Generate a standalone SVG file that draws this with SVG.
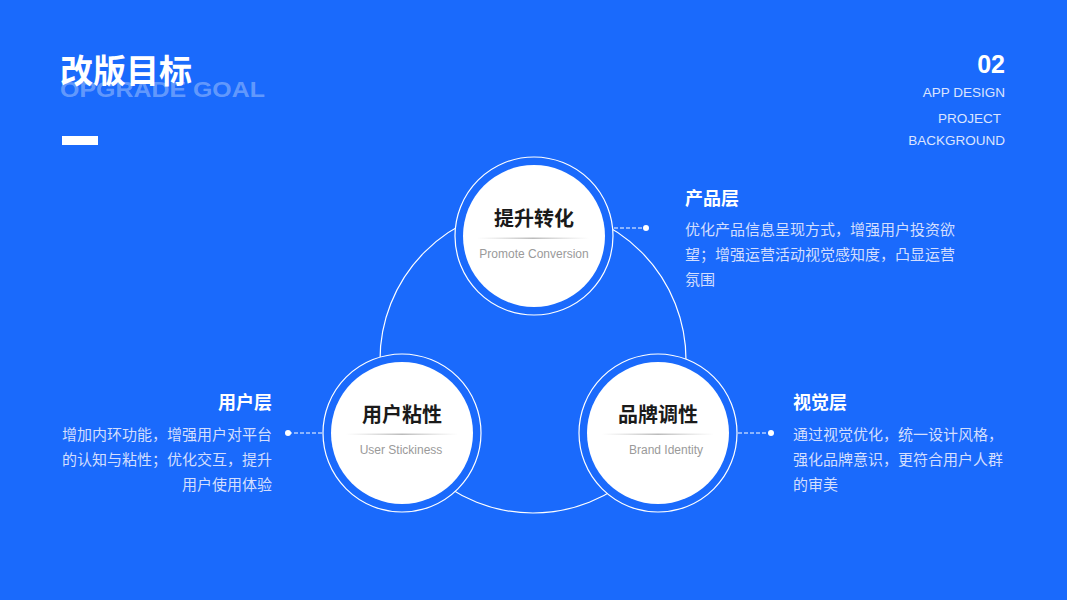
<svg xmlns="http://www.w3.org/2000/svg" width="1067" height="600" viewBox="0 0 1067 600">
<defs>
<style>
.cn{font-family:"Noto Sans CJK SC","Noto Sans",sans-serif}
.en{font-family:"Liberation Sans",Arial,sans-serif}
.ring{fill:#1a6afc;stroke:#ffffff;stroke-width:1.2}
.big{fill:none;stroke:#ffffff;stroke-width:1.2}
.disc{fill:#ffffff}
.ttl{font-size:20px;font-weight:700;fill:#1a1a1a;text-anchor:middle}
.sub{font-size:12px;fill:#9a9a9a;text-anchor:middle}
.hd{font-size:18px;font-weight:700;fill:#ffffff}
.body{font-size:15px;fill:#d3defe}
.dash{stroke:#ffffff;stroke-width:1;stroke-dasharray:4 2;fill:none}
.dot{fill:#ffffff}
.side{font-size:13.5px;fill:#dbe4ff;text-anchor:end}
</style>
<linearGradient id="sep" x1="0" y1="0" x2="1" y2="0">
<stop offset="0" stop-color="#cccccc" stop-opacity="0"/>
<stop offset="0.5" stop-color="#bbbbbb" stop-opacity="1"/>
<stop offset="1" stop-color="#cccccc" stop-opacity="0"/>
</linearGradient>
</defs>
<rect width="1067" height="600" fill="#1a6afc"/>
<g id="header">
<text x="60" y="97" class="en" font-size="22" font-weight="700" fill="#ffffff" fill-opacity="0.33" textLength="205" lengthAdjust="spacingAndGlyphs">OPGRADE GOAL</text>
<text x="60" y="83" class="cn" font-size="33" font-weight="700" fill="#ffffff">改版目标</text>
<rect x="62" y="136" width="36" height="9" fill="#ffffff"/>
<text x="1005" y="73" class="en" font-size="25" font-weight="700" fill="#ffffff" text-anchor="end">02</text>
<text x="1005" y="97" class="en side">APP DESIGN</text>
<text x="1001" y="123" class="en side">PROJECT</text>
<text x="1005" y="145" class="en side">BACKGROUND</text>
</g>
<g id="connectors">
<circle cx="533" cy="360" r="153" class="big"/>
<line x1="614" y1="228" x2="646" y2="228" class="dash"/>
<circle cx="646" cy="228" r="3" class="dot"/>
<line x1="288" y1="433" x2="322" y2="433" class="dash"/>
<circle cx="288" cy="433" r="3" class="dot"/>
<line x1="738" y1="433" x2="771" y2="433" class="dash"/>
<circle cx="771" cy="433" r="3" class="dot"/>
</g>
<g id="node-top">
<circle cx="534" cy="236" r="79" class="ring"/>
<circle cx="534" cy="236" r="71" class="disc"/>
<rect x="477" y="237.5" width="112" height="1.5" fill="url(#sep)"/>
<text x="534" y="226" class="cn ttl">提升转化</text>
<text x="534" y="258" class="en sub">Promote Conversion</text>
</g>
<g id="node-left">
<circle cx="402" cy="433" r="79" class="ring"/>
<circle cx="402" cy="433" r="71" class="disc"/>
<rect x="346" y="433.5" width="112" height="1.5" fill="url(#sep)"/>
<text x="402" y="422" class="cn ttl">用户粘性</text>
<text x="401" y="454" class="en sub">User Stickiness</text>
</g>
<g id="node-right">
<circle cx="658" cy="433" r="79" class="ring"/>
<circle cx="658" cy="433" r="71" class="disc"/>
<rect x="602" y="433.5" width="112" height="1.5" fill="url(#sep)"/>
<text x="658" y="422" class="cn ttl">品牌调性</text>
<text x="666" y="454" class="en sub">Brand Identity</text>
</g>
<g id="text-product">
<text x="685" y="205" class="cn hd">产品层</text>
<text x="685" y="235" class="cn body">优化产品信息呈现方式，增强用户投资欲</text>
<text x="685" y="260" class="cn body">望；增强运营活动视觉感知度，凸显运营</text>
<text x="685" y="285" class="cn body">氛围</text>
</g>
<g id="text-visual">
<text x="793" y="409" class="cn hd">视觉层</text>
<text x="793" y="440" class="cn body">通过视觉优化，统一设计风格，</text>
<text x="793" y="465" class="cn body">强化品牌意识，更符合用户人群</text>
<text x="793" y="490" class="cn body">的审美</text>
</g>
<g id="text-user">
<text x="272" y="409" class="cn hd" text-anchor="end">用户层</text>
<text x="272" y="440" class="cn body" text-anchor="end">增加内环功能，增强用户对平台</text>
<text x="272" y="465" class="cn body" text-anchor="end">的认知与粘性；优化交互，提升</text>
<text x="272" y="490" class="cn body" text-anchor="end">用户使用体验</text>
</g>
</svg>
